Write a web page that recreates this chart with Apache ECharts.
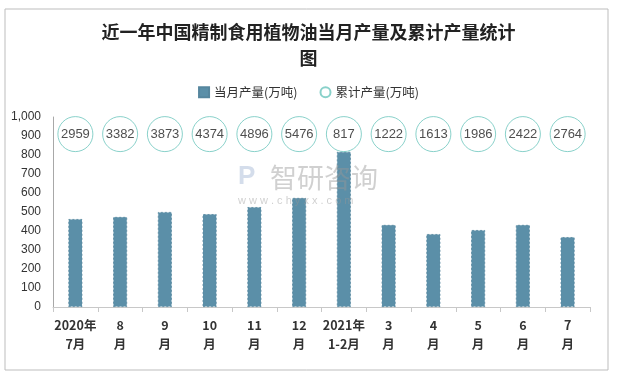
<!DOCTYPE html>
<html><head><meta charset="utf-8">
<script src="https://cdn.jsdelivr.net/npm/echarts@6/dist/echarts.min.js"></script>
<style>html,body{margin:0;padding:0;background:#fff}#c{width:617px;height:374px}</style>
</head><body><div id="c"></div>
<script>
const categories = ['2020年\n7月','8\n月','9\n月','10\n月','11\n月','12\n月','2021年\n1-2月','3\n月','4\n月','5\n月','6\n月','7\n月'];
const monthly = [463, 474, 500, 489, 526, 574, 817, 432, 384, 405, 432, 368];
const cumulative = [2959, 3382, 3873, 4374, 4896, 5476, 817, 1222, 1613, 1986, 2422, 2764];
const yTicks = [0,100,200,300,400,500,600,700,800,900,1000];
const circleRow = 910;

const chart = echarts.init(document.getElementById('c'));
chart.setOption({
  animation:false,
  backgroundColor:'#fff',
  title:{
    text:'近一年中国精制食用植物油当月产量及累计产量统计\n图',
    left:'center', top:14,
    textStyle:{fontFamily:'Noto Sans CJK SC', fontWeight:'bold', fontSize:18, color:'#222', lineHeight:26}
  },
  legend:{
    top:81, left:'center', itemGap:22, itemWidth:10, itemHeight:10,
    textStyle:{fontSize:12.5, color:'#333', fontFamily:'Noto Sans CJK SC'},
    data:[{name:'当月产量(万吨)', icon:'rect'},{name:'累计产量(万吨)', icon:'circle'}]
  },
  grid:{left:53, right:27, top:117, bottom:67},
  xAxis:{
    type:'category', data:categories,
    axisLine:{lineStyle:{color:'#c8c8c8'}},
    axisTick:{show:true, alignWithLabel:false, length:5, lineStyle:{color:'#c8c8c8'}},
    axisLabel:{interval:0, color:'#333', fontWeight:'bold', fontSize:12.5, lineHeight:19, margin:9, fontFamily:'Noto Sans CJK SC'}
  },
  yAxis:{
    type:'value', min:0, max:1000, interval:100,
    axisLine:{show:true, lineStyle:{color:'#a8a8a8'}},
    axisTick:{show:false},
    splitLine:{show:false},
    axisLabel:{color:'#333', fontSize:12, margin:12, fontFamily:'Liberation Sans',
      formatter:v=>v.toLocaleString('en-US')}
  },
  series:[
    {
      name:'当月产量(万吨)', type:'bar', data:monthly, barWidth:14,
      itemStyle:{color:'#5b8fa8', borderColor:'#56869e', borderWidth:0.8, borderType:[2,2]}
    },
    {
      name:'累计产量(万吨)', type:'scatter', symbol:'circle', symbolSize:35,
      data:cumulative.map((v,i)=>({value:[i, circleRow], cum:v})),
      itemStyle:{color:'#fff', borderColor:'#6cc6bd', borderWidth:1},
      label:{show:true, position:'inside', color:'#222', fontSize:13, fontFamily:'Liberation Sans',
        formatter:p=>String(p.data.cum)},
      z:3
    }
  ],
  graphic:[
    {type:'rect', shape:{x:5, y:9, width:603, height:361}, style:{fill:'none', stroke:'#bdbdbd', lineWidth:1}, silent:true},
    {type:'text', left:270, top:164, style:{text:'智研咨询', fontSize:27, fill:'rgba(150,150,150,0.45)', fontFamily:'Noto Sans CJK SC'}, z:10},
    {type:'text', left:238, top:195, style:{text:'w w w . c h y x x . c o m', fontSize:11, fill:'rgba(150,150,150,0.45)', fontFamily:'Liberation Sans'}, z:10},
    {type:'text', left:238, top:164, style:{text:'P', fontSize:26, fontWeight:'bold', fill:'rgba(160,180,210,0.45)', fontFamily:'Liberation Sans'}, z:10}
  ]
});
</script></body></html>
